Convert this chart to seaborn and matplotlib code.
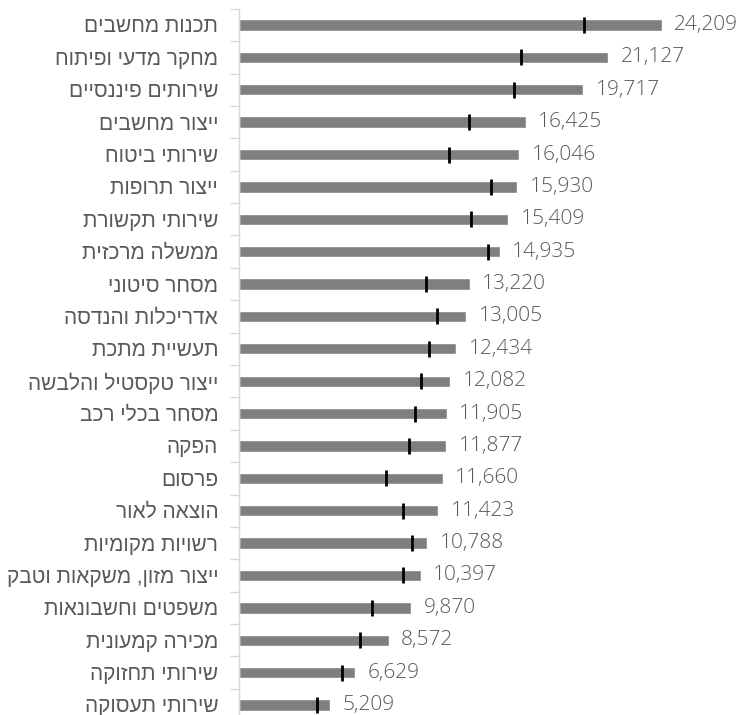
import matplotlib
matplotlib.use('Agg')
import matplotlib.pyplot as plt
import seaborn as sns
import numpy as np
import pandas as pd
from matplotlib.ticker import FixedLocator, NullLocator

categories = [
    "תכנות מחשבים",
    "מחקר מדעי ופיתוח",
    "שירותים פיננסיים",
    "ייצור מחשבים",
    "שירותי ביטוח",
    "ייצור תרופות",
    "שירותי תקשורת",
    "ממשלה מרכזית",
    "מסחר סיטוני",
    "אדריכלות והנדסה",
    "תעשיית מתכת",
    "ייצור טקסטיל והלבשה",
    "מסחר בכלי רכב",
    "הפקה",
    "פרסום",
    "הוצאה לאור",
    "רשויות מקומיות",
    "ייצור מזון, משקאות וטבק",
    "משפטים וחשבונאות",
    "מכירה קמעונית",
    "שירותי תחזוקה",
    "שירותי תעסוקה",
]
values = [24209, 21127, 19717, 16425, 16046, 15930, 15409, 14935, 13220, 13005,
          12434, 12082, 11905, 11877, 11660, 11423, 10788, 10397, 9870, 8572,
          6629, 5209]
markers = [19780, 16130, 15750, 13190, 12010, 14450, 13290, 14240, 10690, 11320,
           10880, 10410, 10080, 9750, 8400, 9380, 9930, 9380, 7620, 6950,
           5920, 4450]

sns.set_theme(style='white')
plt.rcParams['font.family'] = ['Liberation Sans', 'DejaVu Sans']


def vis(s):
    # matplotlib has no bidi support: reverse for right-to-left display
    return s[::-1]


df = pd.DataFrame({'cat': [vis(c) for c in categories],
                   'value': values, 'marker': markers})

W, H = 744, 715
fig = plt.figure(figsize=(W / 100, H / 100), dpi=100)
scale = 422.7 / 24209
xmax = 28700
n = len(categories)
ybottom = (n - 1) + 10 / 32.38
ax = fig.add_axes([239 / W, 0, xmax * scale / W, 706.2 / H])

sns.barplot(data=df, x='value', y='cat', color='#7f7f7f', width=0.35,
            saturation=1, ax=ax, orient='h')
sns.scatterplot(data=df, x='marker', y='cat', marker='|', s=135,
                linewidth=2.0, color='black', ax=ax, zorder=3, legend=False)

ax.bar_label(ax.containers[0], labels=[f"{v:,}" for v in values],
             padding=9, fontsize=15, color='#595959',
             family=['Open Sans', 'DejaVu Sans'], fontweight='light')

ax.set_xlim(0, xmax)
ax.set_ylim(ybottom, -0.5)
ax.set_xlabel('')
ax.set_ylabel('')
ax.xaxis.set_major_locator(NullLocator())
for s in ['top', 'right', 'bottom']:
    ax.spines[s].set_visible(False)
ax.spines['left'].set_color('#d9d9d9')
ax.spines['left'].set_linewidth(1)

ax.yaxis.set_minor_locator(FixedLocator(np.arange(-0.5, n, 1)))
ax.tick_params(axis='y', which='major', length=0, pad=15,
               labelsize=15, labelcolor='#595959')
ax.tick_params(axis='y', which='minor', length=6.5, width=1,
               color='#d9d9d9', left=True)

fig.savefig('out.png', dpi=100)
